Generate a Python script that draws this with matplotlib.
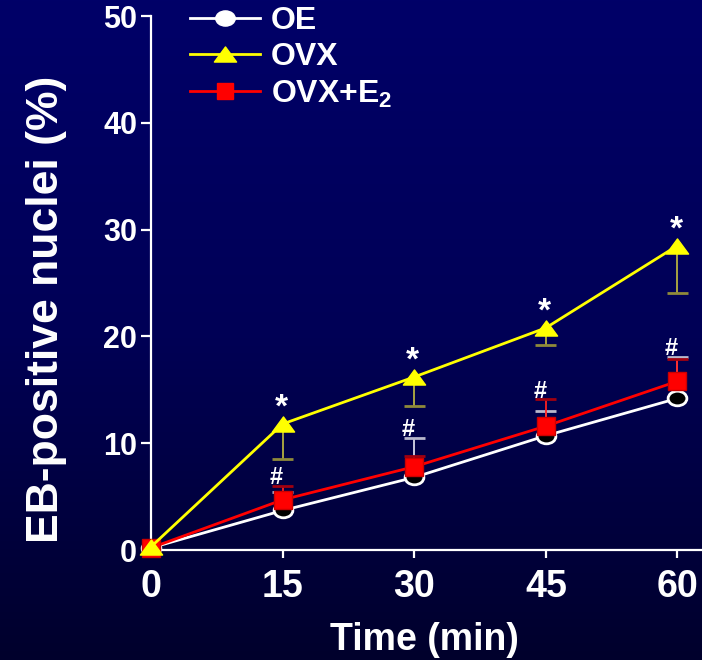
import numpy as np
import matplotlib
matplotlib.use("Agg")
import matplotlib.pyplot as plt
from matplotlib.lines import Line2D
from matplotlib.path import Path

plt.rcParams['font.family'] = ['Liberation Sans', 'DejaVu Sans']
plt.rcParams['font.weight'] = 'bold'
plt.rcParams['mathtext.fontset'] = 'custom'
plt.rcParams['mathtext.rm'] = 'Liberation Sans:bold'
plt.rcParams['mathtext.bf'] = 'Liberation Sans:bold'

# данные
time_min = [0, 15, 30, 45, 60]
oe = [0.2, 3.7, 6.8, 10.7, 14.2]
oe_err_up = [0, 1.7, 3.7, 2.3, 3.9]
ovx = [0.3, 11.8, 16.2, 20.8, 28.5]
ovx_err_down = [0, 3.3, 2.7, 1.6, 4.4]
ovx_e2 = [0.2, 4.7, 7.8, 11.6, 15.8]
ovx_e2_err_up = [0, 1.3, 1.0, 2.5, 2.1]
star_marks = ['', '*', '*', '*', '*']
hash_marks = ['', '#', '#', '#', '#']
x_ticks = [0, 15, 30, 45, 60]
y_ticks = [0, 10, 20, 30, 40, 50]

# приплюснутые маркеры, как на исходном рисунке
flat_tri = Path([(-1, -0.68), (1, -0.68), (0, 0.68), (-1, -0.68)],
                [Path.MOVETO, Path.LINETO, Path.LINETO, Path.CLOSEPOLY])
uc = Path.unit_circle()
ellipse = Path(uc.vertices * np.array([1.0, 0.78]), uc.codes)

fig = plt.figure(figsize=(7.02, 6.6), dpi=100)

# фон с вертикальным градиентом
bg = fig.add_axes([0, 0, 1, 1], zorder=-10)
grad = np.linspace(0, 1, 256).reshape(-1, 1)
bg.imshow(grad, aspect='auto', extent=[0, 1, 0, 1], origin='lower',
          cmap=matplotlib.colors.LinearSegmentedColormap.from_list(
              'bg', ['#00002c', '#000056', '#000068']))
bg.axis('off')

ax = fig.add_axes([151 / 702, 110 / 660, 551 / 702, 534 / 660])
ax.patch.set_alpha(0)
ax.set_xlim(0, 62.8)
ax.set_ylim(0, 50)

t = np.array(time_min, dtype=float)
cap = 1.2  # половина ширины засечки, мин


def draw_err(y, err, sign, line_c, cap_c):
    y = np.array(y)
    err = np.array(err)
    m = err > 0
    end = y + sign * err
    ax.vlines(t[m], y[m], end[m], color=line_c, lw=1.3, zorder=2)
    ax.hlines(end[m], t[m] - cap, t[m] + cap, color=cap_c, lw=2, zorder=2)


draw_err(ovx, ovx_err_down, -1, '#b5b040', '#8f8a3a')
draw_err(oe, oe_err_up, 1, '#d8d8e8', '#b8b8cc')
draw_err(ovx_e2, ovx_e2_err_up, 1, '#ff2020', '#a00010')

ax.plot(t, oe, color='white', lw=2, marker=ellipse, ms=13.5, mfc='black',
        mec='white', mew=2, zorder=3, clip_on=False)
ax.plot(t, ovx_e2, color='red', lw=2, marker='s', ms=12.5, mfc='red',
        mec='#cc0000', mew=1, zorder=4, clip_on=False)
ax.plot(t, ovx, color='yellow', lw=2, marker=flat_tri, ms=16, mfc='yellow',
        mec='yellow', mew=1, zorder=5, clip_on=False)

for x, y, s in zip(t, ovx, star_marks):
    ax.annotate(s, (x, y), xytext=(-1, 0), textcoords='offset points',
                ha='center', va='bottom', color='white', fontsize=24,
                fontweight='bold')

for x, a, ea, b, eb, s in zip(t, oe, oe_err_up, ovx_e2, ovx_e2_err_up, hash_marks):
    top = max(a + ea, b + eb)
    ax.annotate(s, (x, top), xytext=(-4.3, -2.5), textcoords='offset points',
                ha='center', va='bottom', color='white', fontsize=17,
                fontweight='bold')

for sp in ['top', 'right']:
    ax.spines[sp].set_visible(False)
for sp in ['left', 'bottom']:
    ax.spines[sp].set_color('white')
    ax.spines[sp].set_linewidth(1.6)

ax.set_xticks(x_ticks)
ax.set_yticks(y_ticks)
ax.tick_params(axis='y', colors='white', length=7, width=1.6, pad=3,
               labelsize=22)
ax.tick_params(axis='x', colors='white', length=6, width=1.6, pad=8,
               labelsize=27)
for lab in ax.get_xticklabels() + ax.get_yticklabels():
    lab.set_fontweight('bold')

ax.set_xlabel('Time (min)', color='white', fontsize=27, fontweight='bold')
ax.xaxis.set_label_coords((424 - 151) / 551, -0.135)
ax.set_ylabel('EB-positive nuclei (%)', color='white', fontsize=32,
              fontweight='bold')
ax.yaxis.set_label_coords(-0.152, 0.45)

handles = [
    Line2D([], [], color='white', lw=2, marker=ellipse, ms=14, mfc='white',
           mec='white'),
    Line2D([], [], color='yellow', lw=2, marker=flat_tri, ms=16,
           mfc='yellow', mec='yellow'),
    Line2D([], [], color='red', lw=2, marker='s', ms=12, mfc='red',
           mec='red'),
]
labels = ['OE', 'OVX', r'OVX+E$_\mathbf{2}$']
leg = fig.legend(handles, labels, loc='upper left',
                 bbox_to_anchor=(177 / 702, 1 + 7 / 660), frameon=False,
                 fontsize=23, handlelength=2.2, handletextpad=0.35,
                 labelspacing=0.2, borderaxespad=0)
for txt in leg.get_texts():
    txt.set_color('white')
    txt.set_fontweight('bold')

fig.savefig('out.png', dpi=100)
